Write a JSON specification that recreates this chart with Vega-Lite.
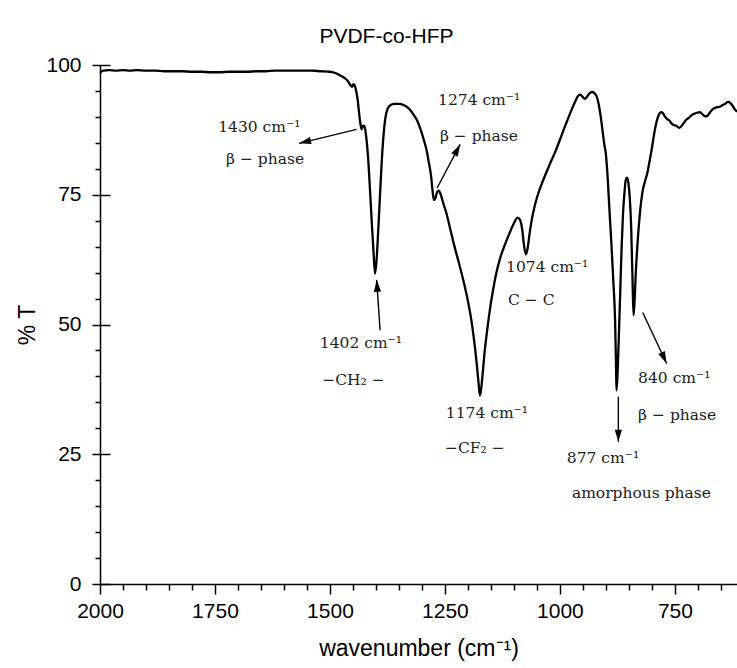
{
  "$schema": "https://vega.github.io/schema/vega-lite/v6.json",
  "width": 637,
  "height": 519,
  "autosize": {"type": "none"},
  "padding": {"left": 100, "top": 65, "right": 0, "bottom": 84},
  "background": "white",
  "config": {
    "view": {"stroke": null},
    "font": "Liberation Sans",
    "axis": {
      "grid": false,
      "domainColor": "black",
      "domainWidth": 1.5,
      "tickColor": "black",
      "tickWidth": 1.5,
      "labelFont": "Liberation Sans",
      "labelFontSize": 21,
      "labelColor": "black",
      "titleFont": "Liberation Sans",
      "titleFontSize": 23,
      "titleFontWeight": "normal",
      "titleColor": "black"
    }
  },
  "title": {
    "text": "PVDF-co-HFP",
    "font": "Liberation Sans",
    "fontSize": 21,
    "fontWeight": "normal",
    "color": "black",
    "baseline": "alphabetic",
    "offset": 25,
    "dx": -32,
    "dy": 35
  },
  "datasets": {
    "spectrum": [
      {"wn": 2000, "T": 98.5}, {"wn": 1993, "T": 98.9}, {"wn": 1980, "T": 99.0}, {"wn": 1965, "T": 98.9},
      {"wn": 1950, "T": 99.0}, {"wn": 1935, "T": 98.9}, {"wn": 1920, "T": 99.0}, {"wn": 1900, "T": 98.9},
      {"wn": 1880, "T": 98.9}, {"wn": 1860, "T": 98.8}, {"wn": 1840, "T": 98.8}, {"wn": 1820, "T": 98.8},
      {"wn": 1800, "T": 98.7}, {"wn": 1780, "T": 98.7}, {"wn": 1760, "T": 98.6}, {"wn": 1740, "T": 98.6},
      {"wn": 1720, "T": 98.7}, {"wn": 1700, "T": 98.7}, {"wn": 1680, "T": 98.7}, {"wn": 1660, "T": 98.8},
      {"wn": 1640, "T": 98.8}, {"wn": 1620, "T": 98.9}, {"wn": 1600, "T": 98.9}, {"wn": 1580, "T": 98.9},
      {"wn": 1560, "T": 98.9}, {"wn": 1540, "T": 98.9}, {"wn": 1520, "T": 98.8}, {"wn": 1500, "T": 98.7},
      {"wn": 1490, "T": 98.5}, {"wn": 1480, "T": 98.1}, {"wn": 1470, "T": 97.6}, {"wn": 1462, "T": 97.0},
      {"wn": 1456, "T": 96.2}, {"wn": 1452, "T": 95.8}, {"wn": 1449, "T": 96.3}, {"wn": 1446, "T": 96.0},
      {"wn": 1443, "T": 95.0}, {"wn": 1440, "T": 93.5}, {"wn": 1437, "T": 91.0}, {"wn": 1434, "T": 88.8},
      {"wn": 1431, "T": 87.6}, {"wn": 1428, "T": 88.3}, {"wn": 1425, "T": 88.2}, {"wn": 1421, "T": 86.0},
      {"wn": 1417, "T": 82.0}, {"wn": 1413, "T": 76.0}, {"wn": 1409, "T": 69.5}, {"wn": 1405, "T": 63.5},
      {"wn": 1402, "T": 59.8}, {"wn": 1399, "T": 62.0}, {"wn": 1396, "T": 66.5}, {"wn": 1392, "T": 73.5},
      {"wn": 1388, "T": 80.5}, {"wn": 1384, "T": 86.0}, {"wn": 1380, "T": 89.5}, {"wn": 1375, "T": 91.5},
      {"wn": 1368, "T": 92.3}, {"wn": 1360, "T": 92.5}, {"wn": 1350, "T": 92.5}, {"wn": 1340, "T": 92.3},
      {"wn": 1332, "T": 91.9}, {"wn": 1325, "T": 91.3}, {"wn": 1318, "T": 90.4}, {"wn": 1311, "T": 89.4},
      {"wn": 1303, "T": 87.6}, {"wn": 1296, "T": 85.6}, {"wn": 1290, "T": 83.6}, {"wn": 1285, "T": 81.2},
      {"wn": 1280, "T": 78.5}, {"wn": 1277, "T": 75.8}, {"wn": 1274, "T": 74.0}, {"wn": 1271, "T": 74.3},
      {"wn": 1267, "T": 75.5}, {"wn": 1263, "T": 75.8}, {"wn": 1259, "T": 75.0}, {"wn": 1253, "T": 73.2},
      {"wn": 1246, "T": 71.2}, {"wn": 1239, "T": 68.6}, {"wn": 1230, "T": 65.3}, {"wn": 1220, "T": 62.0},
      {"wn": 1210, "T": 58.5}, {"wn": 1200, "T": 54.5}, {"wn": 1192, "T": 50.5}, {"wn": 1186, "T": 46.5},
      {"wn": 1181, "T": 42.5}, {"wn": 1177, "T": 38.8}, {"wn": 1174, "T": 36.3}, {"wn": 1171, "T": 37.8},
      {"wn": 1168, "T": 40.5}, {"wn": 1164, "T": 44.5}, {"wn": 1158, "T": 49.0}, {"wn": 1152, "T": 53.0},
      {"wn": 1146, "T": 56.3}, {"wn": 1140, "T": 59.2}, {"wn": 1130, "T": 62.8}, {"wn": 1120, "T": 65.3},
      {"wn": 1110, "T": 67.5}, {"wn": 1100, "T": 69.5}, {"wn": 1092, "T": 70.6}, {"wn": 1087, "T": 70.2},
      {"wn": 1082, "T": 68.3}, {"wn": 1078, "T": 65.2}, {"wn": 1074, "T": 63.5}, {"wn": 1070, "T": 64.8},
      {"wn": 1066, "T": 67.5}, {"wn": 1061, "T": 70.3}, {"wn": 1055, "T": 72.8}, {"wn": 1048, "T": 75.0},
      {"wn": 1040, "T": 77.0}, {"wn": 1030, "T": 79.2}, {"wn": 1020, "T": 81.3}, {"wn": 1010, "T": 83.3},
      {"wn": 1000, "T": 85.6}, {"wn": 992, "T": 87.5}, {"wn": 984, "T": 89.3}, {"wn": 975, "T": 91.3},
      {"wn": 967, "T": 92.9}, {"wn": 961, "T": 94.0}, {"wn": 956, "T": 94.3}, {"wn": 951, "T": 93.9},
      {"wn": 946, "T": 93.5}, {"wn": 941, "T": 93.9}, {"wn": 936, "T": 94.5}, {"wn": 930, "T": 94.8},
      {"wn": 925, "T": 94.6}, {"wn": 920, "T": 93.9}, {"wn": 916, "T": 92.6}, {"wn": 912, "T": 90.5},
      {"wn": 908, "T": 87.8}, {"wn": 904, "T": 85.0}, {"wn": 900, "T": 82.8}, {"wn": 896, "T": 78.0},
      {"wn": 892, "T": 71.5}, {"wn": 888, "T": 65.5}, {"wn": 884, "T": 58.5}, {"wn": 880, "T": 50.5},
      {"wn": 878, "T": 42.0}, {"wn": 877, "T": 37.3}, {"wn": 875, "T": 40.0}, {"wn": 872, "T": 47.5},
      {"wn": 869, "T": 56.0}, {"wn": 866, "T": 64.5}, {"wn": 863, "T": 71.0}, {"wn": 860, "T": 75.0},
      {"wn": 857, "T": 77.8}, {"wn": 854, "T": 78.3}, {"wn": 851, "T": 77.2}, {"wn": 848, "T": 74.2},
      {"wn": 845, "T": 68.5}, {"wn": 842, "T": 58.0}, {"wn": 840, "T": 51.8}, {"wn": 838, "T": 54.0},
      {"wn": 835, "T": 60.0}, {"wn": 831, "T": 66.0}, {"wn": 826, "T": 71.5}, {"wn": 820, "T": 75.8},
      {"wn": 815, "T": 77.6}, {"wn": 810, "T": 79.2}, {"wn": 805, "T": 81.5}, {"wn": 800, "T": 84.0},
      {"wn": 795, "T": 86.8}, {"wn": 790, "T": 89.0}, {"wn": 785, "T": 90.4}, {"wn": 780, "T": 90.9},
      {"wn": 776, "T": 90.7}, {"wn": 772, "T": 90.1}, {"wn": 767, "T": 89.6}, {"wn": 762, "T": 89.3},
      {"wn": 757, "T": 88.7}, {"wn": 752, "T": 88.4}, {"wn": 747, "T": 88.3}, {"wn": 741, "T": 87.9},
      {"wn": 736, "T": 88.2}, {"wn": 731, "T": 88.8}, {"wn": 726, "T": 89.4}, {"wn": 720, "T": 89.8},
      {"wn": 714, "T": 90.3}, {"wn": 708, "T": 90.6}, {"wn": 702, "T": 90.8}, {"wn": 696, "T": 90.9},
      {"wn": 691, "T": 90.6}, {"wn": 686, "T": 90.2}, {"wn": 681, "T": 90.1}, {"wn": 676, "T": 90.6},
      {"wn": 671, "T": 91.2}, {"wn": 666, "T": 91.6}, {"wn": 661, "T": 91.8}, {"wn": 656, "T": 91.9},
      {"wn": 651, "T": 92.0}, {"wn": 646, "T": 92.3}, {"wn": 641, "T": 92.5}, {"wn": 637, "T": 92.8},
      {"wn": 633, "T": 92.9}, {"wn": 629, "T": 92.6}, {"wn": 625, "T": 92.2}, {"wn": 620, "T": 91.5},
      {"wn": 615, "T": 91.0}
    ],
    "labels": [
      {"wn": 1743, "T": 88.1, "text": "1430 cm⁻¹"},
      {"wn": 1726, "T": 81.9, "text": "β − phase"},
      {"wn": 1265, "T": 93.3, "text": "1274 cm⁻¹"},
      {"wn": 1261, "T": 86.3, "text": "β − phase"},
      {"wn": 1522, "T": 46.4, "text": "1402 cm⁻¹"},
      {"wn": 1517, "T": 39.3, "text": "−CH₂ −"},
      {"wn": 1248, "T": 32.9, "text": "1174 cm⁻¹"},
      {"wn": 1250, "T": 26.2, "text": "−CF₂ −"},
      {"wn": 1117, "T": 61.1, "text": "1074 cm⁻¹"},
      {"wn": 1113, "T": 54.7, "text": "C − C"},
      {"wn": 830, "T": 39.7, "text": "840 cm⁻¹"},
      {"wn": 830, "T": 32.6, "text": "β − phase"},
      {"wn": 985, "T": 24.3, "text": "877 cm⁻¹"},
      {"wn": 974, "T": 17.5, "text": "amorphous phase"}
    ],
    "arrows": [
      {"id": "a1430", "wn": 1442, "T": 87.6, "wn2": 1567, "T2": 84.9},
      {"id": "a1274", "wn": 1267, "T": 76.3, "wn2": 1217, "T2": 84.7},
      {"id": "a1402", "wn": 1391, "T": 48.9, "wn2": 1398.5, "T2": 58.6},
      {"id": "a877", "wn": 873, "T": 36.1, "wn2": 873, "T2": 27.4},
      {"id": "a840", "wn": 820, "T": 52.3, "wn2": 768, "T2": 42.5}
    ]
  },
  "layer": [
    {
      "data": {"name": "spectrum"},
      "mark": {"type": "line", "color": "black", "strokeWidth": 2.3, "interpolate": "monotone"},
      "encoding": {
        "x": {
          "field": "wn", "type": "quantitative", "title": "wavenumber (cm⁻¹)",
          "scale": {"domain": [615, 2000], "reverse": true, "nice": false, "zero": false},
          "axis": {
            "orient": "bottom",
            "values": [750, 1000, 1250, 1500, 1750, 2000],
            "tickSize": 10,
            "labelPadding": 6,
            "labelFlush": false,
            "labelOverlap": false,
            "labelBound": false,
            "titlePadding": 16,
            "format": "d"
          }
        },
        "y": {
          "field": "T", "type": "quantitative", "title": "% T",
          "scale": {"domain": [0, 100], "nice": false, "zero": false},
          "axis": {
            "orient": "left",
            "values": [0, 25, 50, 75, 100],
            "tickSize": 8,
            "labelPadding": 11,
            "labelOverlap": false,
            "labelFlush": false,
            "titlePadding": 6
          }
        }
      }
    },
    {
      "data": {"name": "labels"},
      "mark": {"type": "point", "opacity": 0},
      "encoding": {
        "y": {
          "field": "T", "type": "quantitative",
          "scale": {"domain": [0, 100], "nice": false, "zero": false},
          "axis": {
            "orient": "left",
            "values": [0, 25, 50, 75, 100],
            "tickSize": 10,
            "offset": -10,
            "domain": false,
            "labels": false,
            "title": null
          }
        }
      }
    },
    {
      "data": {"name": "labels"},
      "mark": {"type": "point", "opacity": 0},
      "encoding": {
        "y": {
          "field": "T", "type": "quantitative",
          "scale": {"domain": [0, 100], "nice": false, "zero": false},
          "axis": {
            "orient": "left",
            "values": [5, 10, 15, 20, 30, 35, 40, 45, 55, 60, 65, 70, 80, 85, 90, 95],
            "tickSize": 5,
            "domain": false,
            "labels": false,
            "title": null
          }
        }
      }
    },
    {
      "data": {"name": "labels"},
      "mark": {"type": "point", "opacity": 0},
      "encoding": {
        "x": {
          "field": "wn", "type": "quantitative",
          "scale": {"domain": [615, 2000], "reverse": true, "nice": false, "zero": false},
          "axis": {
            "orient": "bottom",
            "values": [650, 700, 800, 850, 900, 950, 1050, 1100, 1150, 1200, 1300, 1350, 1400, 1450, 1550, 1600, 1650, 1700, 1800, 1850, 1900, 1950],
            "tickSize": 6,
            "domain": false,
            "labels": false,
            "title": null
          }
        }
      }
    },
    {
      "data": {"name": "arrows"},
      "mark": {"type": "rule", "color": "black", "strokeWidth": 1.4},
      "encoding": {
        "x": {"field": "wn", "type": "quantitative", "axis": null, "scale": {"domain": [615, 2000], "reverse": true, "nice": false, "zero": false}},
        "y": {"field": "T", "type": "quantitative", "axis": null, "scale": {"domain": [0, 100], "nice": false, "zero": false}},
        "x2": {"field": "wn2"},
        "y2": {"field": "T2"}
      }
    },
    {
      "data": {"name": "arrows"},
      "transform": [{"filter": "datum.id === 'a1430'"}],
      "mark": {"type": "point", "shape": "M0,0L0.6,2L-0.6,2Z", "filled": true, "opacity": 1, "color": "black", "size": 144, "angle": 256},
      "encoding": {
        "x": {"field": "wn2", "type": "quantitative", "axis": null, "scale": {"domain": [615, 2000], "reverse": true, "nice": false, "zero": false}},
        "y": {"field": "T2", "type": "quantitative", "axis": null, "scale": {"domain": [0, 100], "nice": false, "zero": false}}
      }
    },
    {
      "data": {"name": "arrows"},
      "transform": [{"filter": "datum.id === 'a1274'"}],
      "mark": {"type": "point", "shape": "M0,0L0.6,2L-0.6,2Z", "filled": true, "opacity": 1, "color": "black", "size": 144, "angle": 28},
      "encoding": {
        "x": {"field": "wn2", "type": "quantitative", "axis": null, "scale": {"domain": [615, 2000], "reverse": true, "nice": false, "zero": false}},
        "y": {"field": "T2", "type": "quantitative", "axis": null, "scale": {"domain": [0, 100], "nice": false, "zero": false}}
      }
    },
    {
      "data": {"name": "arrows"},
      "transform": [{"filter": "datum.id === 'a1402'"}],
      "mark": {"type": "point", "shape": "M0,0L0.6,2L-0.6,2Z", "filled": true, "opacity": 1, "color": "black", "size": 144, "angle": 356},
      "encoding": {
        "x": {"field": "wn2", "type": "quantitative", "axis": null, "scale": {"domain": [615, 2000], "reverse": true, "nice": false, "zero": false}},
        "y": {"field": "T2", "type": "quantitative", "axis": null, "scale": {"domain": [0, 100], "nice": false, "zero": false}}
      }
    },
    {
      "data": {"name": "arrows"},
      "transform": [{"filter": "datum.id === 'a877'"}],
      "mark": {"type": "point", "shape": "M0,0L0.6,2L-0.6,2Z", "filled": true, "opacity": 1, "color": "black", "size": 144, "angle": 180},
      "encoding": {
        "x": {"field": "wn2", "type": "quantitative", "axis": null, "scale": {"domain": [615, 2000], "reverse": true, "nice": false, "zero": false}},
        "y": {"field": "T2", "type": "quantitative", "axis": null, "scale": {"domain": [0, 100], "nice": false, "zero": false}}
      }
    },
    {
      "data": {"name": "arrows"},
      "transform": [{"filter": "datum.id === 'a840'"}],
      "mark": {"type": "point", "shape": "M0,0L0.6,2L-0.6,2Z", "filled": true, "opacity": 1, "color": "black", "size": 144, "angle": 155},
      "encoding": {
        "x": {"field": "wn2", "type": "quantitative", "axis": null, "scale": {"domain": [615, 2000], "reverse": true, "nice": false, "zero": false}},
        "y": {"field": "T2", "type": "quantitative", "axis": null, "scale": {"domain": [0, 100], "nice": false, "zero": false}}
      }
    },
    {
      "data": {"name": "labels"},
      "mark": {"type": "text", "align": "left", "baseline": "middle", "font": "DejaVu Serif", "fontSize": 15.5, "color": "#222222"},
      "encoding": {
        "x": {"field": "wn", "type": "quantitative", "axis": null, "scale": {"domain": [615, 2000], "reverse": true, "nice": false, "zero": false}},
        "y": {"field": "T", "type": "quantitative", "axis": null, "scale": {"domain": [0, 100], "nice": false, "zero": false}},
        "text": {"field": "text"}
      }
    }
  ],
  "resolve": {"axis": {"x": "independent", "y": "independent"}}
}
